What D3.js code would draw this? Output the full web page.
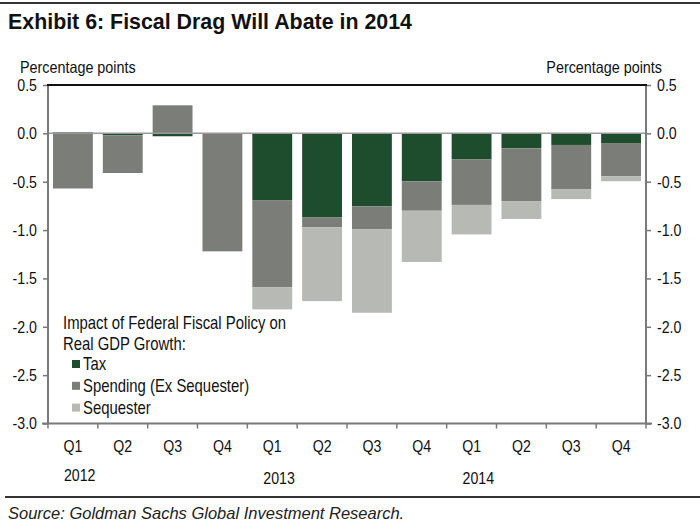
<!DOCTYPE html>
<html><head><meta charset="utf-8">
<script src="https://cdn.jsdelivr.net/npm/d3@7"></script>
<style>body{margin:0;background:#fff}svg{display:block}</style>
</head><body>
<svg id="c" width="700" height="525"></svg>
<script>
const quarters = ["Q1","Q2","Q3","Q4","Q1","Q2","Q3","Q4","Q1","Q2","Q3","Q4"];
const years = [{label:"2012", idx:0},{label:"2013", idx:4},{label:"2014", idx:8}];
const tax       = [0.01, -0.02, -0.03, 0.00, -0.69, -0.87, -0.755, -0.495, -0.27, -0.155, -0.12, -0.10];
const spending  = [-0.57, -0.39, 0.29, -1.22, -0.90, -0.10, -0.235, -0.305, -0.47, -0.545, -0.46, -0.345];
const sequester = [0, 0, 0, 0, -0.23, -0.765, -0.865, -0.53, -0.305, -0.185, -0.10, -0.05];
const yTicks = [0.5, 0.0, -0.5, -1.0, -1.5, -2.0, -2.5, -3.0];
const seriesNames = ["Tax","Spending (Ex Sequester)","Sequester"];
const colors = ["#1e4d2e","#7b7d79","#b7bab4"];

const FONT = "'Liberation Sans',Arial,sans-serif";
const svg = d3.select("#c");
const L = 48, R = 646, T = 85, B = 423.5;
const idx = d3.range(quarters.length);
const x = d3.scaleBand().domain(idx).range([L, R]).paddingInner(0.2).paddingOuter(0.1);
const y = d3.scaleLinear().domain([-3, 0.5]).range([B, T]);
const fmt = v => d3.format(".1f")(v).replace("\u2212", "-");

// condensed text helper
function ntext(parent, px, py, str, size, sx, anchor, extra) {
  const t = parent.append("text")
    .attr("transform", `translate(${px},${py}) scale(${sx},1)`)
    .attr("font-family", FONT).attr("font-size", size).attr("fill", "#111")
    .attr("text-anchor", anchor || "start").text(str);
  if (extra) extra(t);
  return t;
}

// top rule & title
svg.append("line").attr("x1",0).attr("x2",700).attr("y1",3).attr("y2",3).attr("stroke","#333").attr("stroke-width",2);
ntext(svg, 8, 29, "Exhibit 6: Fiscal Drag Will Abate in 2014", 23, 0.93, "start", t => t.attr("font-weight","bold"));

ntext(svg, 20, 73, "Percentage points", 16.5, 0.87);
ntext(svg, 662, 73, "Percentage points", 16.5, 0.87, "end");

// stacked bars (positive and negative stacking)
const series = [tax, spending, sequester];
idx.forEach(i => {
  let pos = 0, neg = 0;
  series.forEach((s, k) => {
    const v = s[i];
    if (v === 0) return;
    let y0, y1;
    if (v > 0) { y0 = pos; y1 = pos + v; pos = y1; }
    else { y0 = neg; y1 = neg + v; neg = y1; }
    svg.append("rect")
      .attr("x", x(i)).attr("width", x.bandwidth())
      .attr("y", y(Math.max(y0,y1))).attr("height", Math.abs(y(y0)-y(y1)))
      .attr("fill", colors[k]);
  });
});

// zero line
svg.append("line").attr("x1",L).attr("x2",R).attr("y1",y(0)).attr("y2",y(0)).attr("stroke","#999").attr("stroke-width",1.5);

// axes
const sx = 0.86;
const yl = d3.axisLeft(y).tickValues(yTicks).tickFormat(fmt).tickSize(5).tickPadding(6);
const yr = d3.axisRight(y).tickValues(yTicks).tickFormat(fmt).tickSize(5).tickPadding(6);
const gl = svg.append("g").attr("transform",`translate(${L},0)`).call(yl);
const gr = svg.append("g").attr("transform",`translate(${R},0)`).call(yr);
[[gl,-1],[gr,1]].forEach(([g, dir]) => {
  g.select(".domain").remove();
  g.selectAll(".tick line").attr("stroke","#777").attr("stroke-width",1.5);
  g.selectAll(".tick text").attr("font-family",FONT).attr("font-size",16.5).attr("fill","#111")
    .attr("x", dir * 11 / sx).attr("transform", `scale(${sx},1)`);
});
svg.append("line").attr("x1",L).attr("x2",L).attr("y1",T).attr("y2",B).attr("stroke","#7a7a7a").attr("stroke-width",2);
svg.append("line").attr("x1",R).attr("x2",R).attr("y1",T).attr("y2",B).attr("stroke","#7a7a7a").attr("stroke-width",2);
svg.append("line").attr("x1",L-1).attr("x2",R+1).attr("y1",T).attr("y2",T).attr("stroke","#111").attr("stroke-width",2);
svg.append("line").attr("x1",L-6).attr("x2",R+6).attr("y1",B).attr("y2",B).attr("stroke","#7a7a7a").attr("stroke-width",2);

// x ticks at band boundaries
const bounds = d3.range(quarters.length + 1).map(i => L + i * (R - L) / quarters.length);
svg.selectAll(".xt").data(bounds).join("line")
  .attr("x1", d => d).attr("x2", d => d).attr("y1", B).attr("y2", B + 5)
  .attr("stroke","#7a7a7a").attr("stroke-width",1.5);

idx.forEach(i => ntext(svg, x(i) + x.bandwidth()/2, 452, quarters[i], 16.5, sx, "middle"));
years.forEach((d, i) => ntext(svg, x(d.idx) + x.bandwidth()/2 - 9, i === 0 ? 481 : 484, d.label, 16.5, sx));

// legend
const lg = svg.append("g");
ntext(lg, 63, 329, "Impact of Federal Fiscal Policy on", 17.5, 0.85);
ntext(lg, 63, 350, "Real GDP Growth:", 17.5, 0.85);
seriesNames.forEach((n, k) => {
  const cy = 364 + k * 21.8;
  lg.append("rect").attr("x",72).attr("y",cy-4).attr("width",8).attr("height",8).attr("fill",colors[k]);
  ntext(lg, 83, cy + 6, n, 17.5, 0.85);
});

// bottom rule & source
svg.append("line").attr("x1",5).attr("x2",700).attr("y1",497).attr("y2",497).attr("stroke","#333").attr("stroke-width",2);
ntext(svg, 8, 519, "Source: Goldman Sachs Global Investment Research.", 16.5, 1, "start", t => t.attr("font-style","italic").attr("fill","#222"));
</script>
</body></html>
